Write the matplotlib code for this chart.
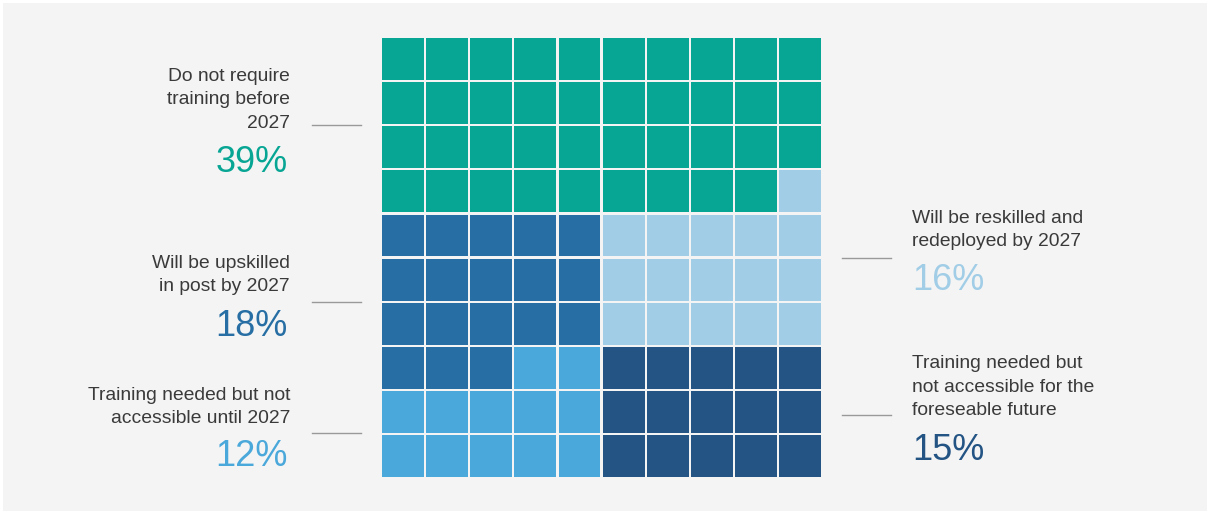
import matplotlib.pyplot as plt
from matplotlib.patches import Rectangle

plt.rcParams['font.family'] = ['Liberation Sans', 'DejaVu Sans']

# data
labels = ['Do not require\ntraining before\n2027',
          'Will be upskilled\nin post by 2027',
          'Training needed but not\naccessible until 2027',
          'Will be reskilled and\nredeployed by 2027',
          'Training needed but\nnot accessible for the\nforeseable future']
values = [39, 18, 12, 16, 15]
colors = ['#07a594', '#266ea3', '#4aa8da', '#a1cde7', '#235484']
side = ['top', 'left', 'left', 'right', 'right']

n_rows, n_cols = 10, 10

fig = plt.figure(figsize=(12.1, 5.14), dpi=100)
fig.patch.set_facecolor('white')
ax = fig.add_axes([0, 0, 1, 1])
ax.set_xlim(0, 1210)
ax.set_ylim(514, 0)
ax.axis('off')
ax.add_patch(Rectangle((3, 3), 1204, 508, facecolor='#f4f4f4', edgecolor='none'))

# assign cells: first group fills row by row, the rest split into left / right halves
cells = [(r, c) for r in range(n_rows) for c in range(n_cols)]
owner = {}
top_n = values[0]
for cell in cells[:top_n]:
    owner[cell] = 0
rest = cells[top_n:]
left_cells = [rc for rc in rest if rc[1] < n_cols // 2]
right_cells = [rc for rc in rest if rc[1] >= n_cols // 2]
for pool, which in [(left_cells, 'left'), (right_cells, 'right')]:
    i = 0
    for k, s in enumerate(side):
        if s != which:
            continue
        for cell in pool[i:i + values[k]]:
            owner[cell] = k
        i += values[k]

x0, y0 = 381, 37
pitch = 44.1
gap = 2.2
for (r, c), k in owner.items():
    ax.add_patch(Rectangle((x0 + c * pitch + gap / 2, y0 + r * pitch + gap / 2),
                           pitch - gap, pitch - gap, facecolor=colors[k], edgecolor='none'))

# annotations: (label block centre y, leader y, pct y)
ann = {
    0: (100, 125, 160),
    1: (275, 302, 325),
    2: (407, 433, 455),
    3: (230, 258, 278),
    4: (387, 415, 448),
}
for k, (ty, ly, py) in ann.items():
    if side[k] == 'right':
        tx, ha, lx = 912, 'left', (842, 891)
    else:
        tx, ha, lx = 290, 'right', (312, 361)
    ax.text(tx, ty, labels[k], ha=ha, va='center', fontsize=13.9, color='#3a3a3a',
            linespacing=1.48)
    ax.plot(lx, [ly, ly], color='#999999', lw=1)
    ax.text(tx - (2 if ha == 'right' else 0), py + 2, f'{values[k]}%', ha=ha, va='center',
            fontsize=26, color=colors[k])

fig.savefig('out.png', dpi=100, facecolor=fig.get_facecolor())
